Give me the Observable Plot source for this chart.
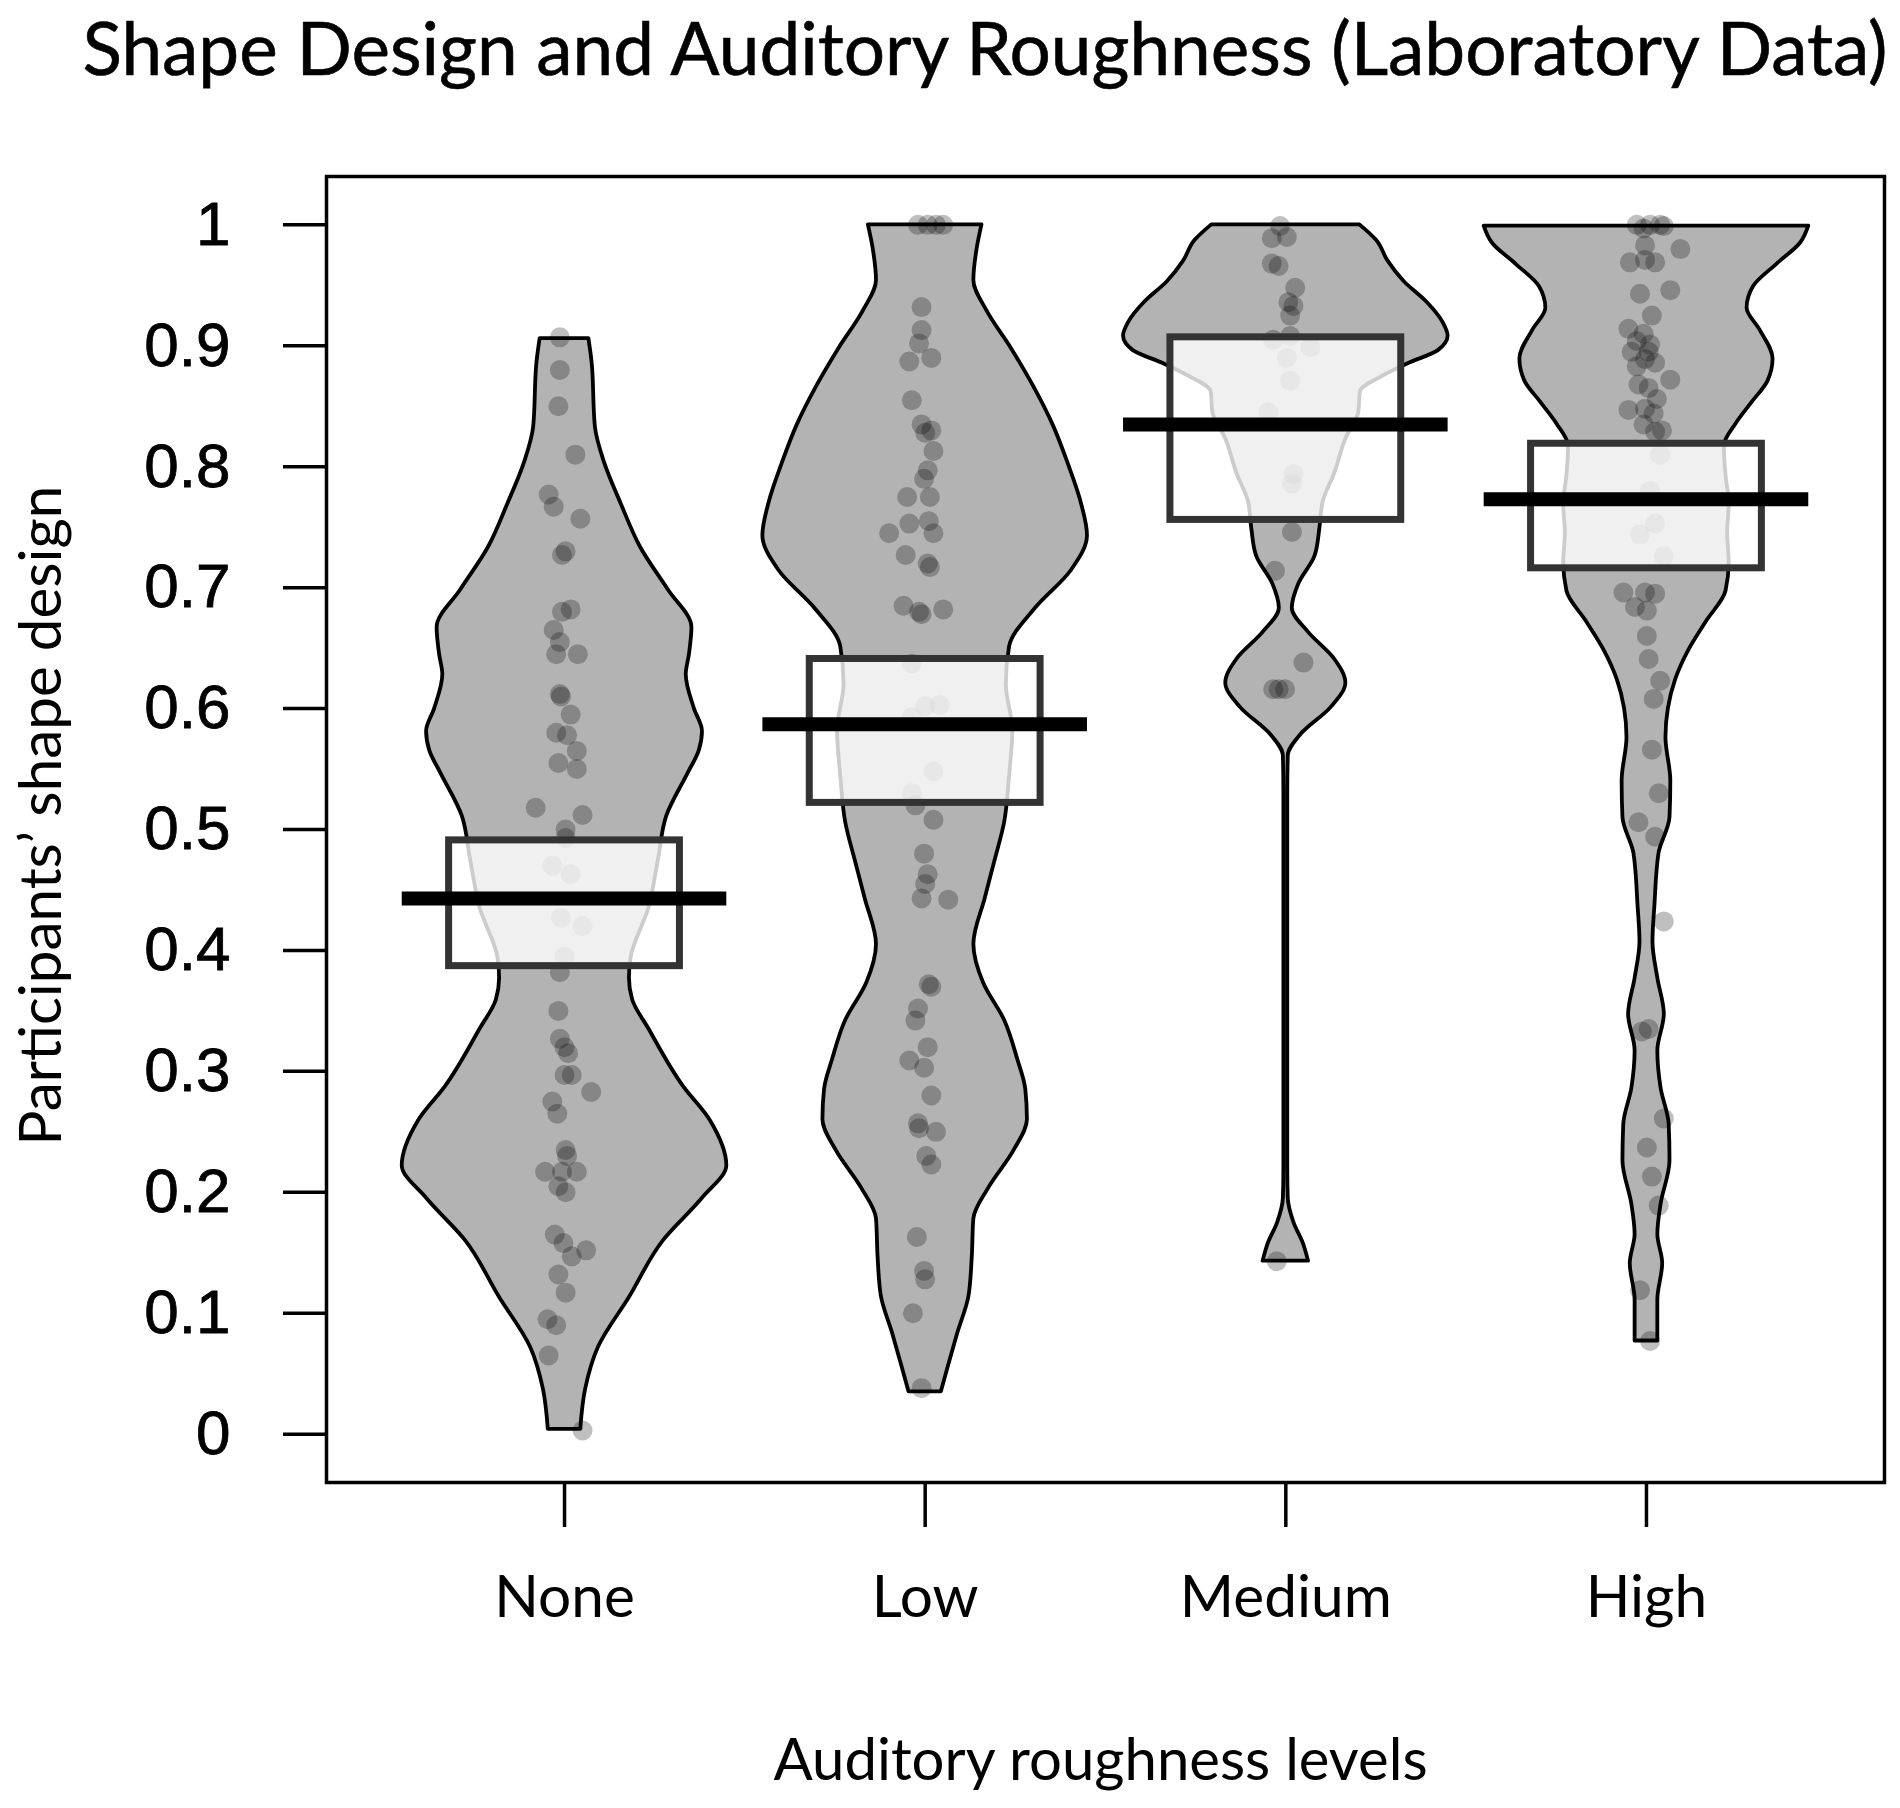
<!DOCTYPE html>
<html>
<head>
<meta charset="utf-8">
<script src="https://cdn.jsdelivr.net/npm/d3@7"></script>
<script src="https://cdn.jsdelivr.net/npm/@observablehq/plot@0.6"></script>
<style>
  body { margin: 0; background: #fff; }
  #wrap { width: 1900px; }
  svg { display: block; }
</style>
</head>
<body>
<div id="wrap"></div>
<script>
// ---------------- data ----------------
const titleText = "Shape Design and Auditory Roughness (Laboratory Data)";
const xLabel = "Auditory roughness levels";
const yLabel = "Participants\u2019 shape design";
const categories = ["None", "Low", "Medium", "High"];
const xTicks = [1, 2, 3, 4];
const yTicks = [0, 0.1, 0.2, 0.3, 0.4, 0.5, 0.6, 0.7, 0.8, 0.9, 1];
const yTickLabels = ["0", "0.1", "0.2", "0.3", "0.4", "0.5", "0.6", "0.7", "0.8", "0.9", "1"];

// averages (thick line) and inference band (box)
const means  = [0.443, 0.587, 0.835, 0.773];
const infLow = [0.387, 0.522, 0.756, 0.716];
const infHigh = [0.491, 0.641, 0.907, 0.819];

// bean outlines: [value, relative half-width]
const beanNone = [[0.004,0.10],[0.037,0.13],[0.072,0.21],[0.113,0.40],[0.160,0.61],[0.195,0.85],[0.222,1.0],[0.259,0.90],[0.288,0.73],[0.335,0.52],[0.359,0.42],[0.377,0.40],[0.394,0.41],[0.435,0.52],[0.476,0.58],[0.511,0.63],[0.546,0.76],[0.565,0.83],[0.581,0.85],[0.600,0.80],[0.628,0.75],[0.645,0.77],[0.667,0.785],[0.698,0.64],[0.733,0.47],[0.769,0.35],[0.804,0.245],[0.833,0.19],[0.886,0.17],[0.906,0.15]];
const beanLow = [[0.035,0.10],[0.057,0.145],[0.083,0.20],[0.114,0.27],[0.146,0.29],[0.178,0.30],[0.203,0.39],[0.235,0.55],[0.260,0.63],[0.285,0.62],[0.310,0.57],[0.342,0.49],[0.373,0.36],[0.405,0.30],[0.443,0.37],[0.474,0.43],[0.506,0.49],[0.544,0.52],[0.582,0.54],[0.620,0.50],[0.651,0.52],[0.683,0.68],[0.714,0.90],[0.743,1.0],[0.771,0.96],[0.803,0.88],[0.834,0.79],[0.866,0.67],[0.898,0.53],[0.929,0.38],[0.954,0.30],[0.980,0.32],[1.0,0.35]];
const beanMedium = [[0.143,0.14],[0.157,0.11],[0.175,0.05],[0.195,0.015],[0.22,0.012],[0.53,0.012],[0.561,0.015],[0.578,0.09],[0.601,0.28],[0.621,0.37],[0.641,0.30],[0.663,0.14],[0.683,0.04],[0.703,0.08],[0.726,0.18],[0.749,0.21],[0.771,0.23],[0.794,0.30],[0.823,0.37],[0.845,0.45],[0.862,0.46],[0.875,0.60],[0.885,0.75],[0.896,0.94],[0.908,1.0],[0.919,0.97],[0.936,0.87],[0.953,0.73],[0.970,0.63],[0.987,0.56],[1.0,0.456]];
const beanHigh = [[0.077,0.07],[0.111,0.07],[0.141,0.10],[0.165,0.07],[0.190,0.09],[0.226,0.145],[0.256,0.14],[0.286,0.09],[0.317,0.07],[0.347,0.11],[0.377,0.07],[0.407,0.04],[0.437,0.052],[0.480,0.077],[0.510,0.145],[0.540,0.15],[0.576,0.12],[0.600,0.135],[0.624,0.18],[0.648,0.26],[0.672,0.37],[0.697,0.49],[0.721,0.51],[0.745,0.50],[0.769,0.51],[0.793,0.49],[0.817,0.48],[0.835,0.55],[0.853,0.65],[0.871,0.75],[0.889,0.78],[0.913,0.70],[0.931,0.62],[0.949,0.66],[0.967,0.80],[0.985,0.95],[0.999,1.0]];

// raw observations: values and horizontal jitter
const noneY = [0.907,0.88,0.85,0.81,0.777,0.767,0.757,0.73,0.727,0.68,0.682,0.665,0.655,0.645,0.645,0.612,0.61,0.595,0.58,0.578,0.565,0.555,0.55,0.518,0.512,0.5,0.493,0.47,0.463,0.427,0.42,0.395,0.382,0.35,0.327,0.32,0.315,0.297,0.297,0.283,0.275,0.265,0.235,0.23,0.217,0.217,0.217,0.205,0.2,0.165,0.158,0.152,0.147,0.132,0.117,0.095,0.09,0.065,0.003];
const noneJ = [-0.013,-0.013,-0.017,0.03,-0.044,-0.03,0.044,0.003,-0.007,-0.007,0.017,-0.03,-0.013,-0.023,0.037,-0.013,-0.01,0.017,-0.023,0.007,0.034,-0.017,0.034,-0.08,0.05,0.003,0.003,-0.034,0.017,-0.01,0.05,0,-0.013,-0.017,-0.013,0,0.01,0,0.02,0.074,-0.034,-0.02,0.003,0.007,-0.054,-0.007,0.034,-0.017,0.003,-0.027,-0.003,0.06,0.02,-0.017,0.003,-0.047,-0.023,-0.044,0.05];
const lowY = [1.0,1.0,1.0,1.0,0.932,0.913,0.902,0.89,0.887,0.855,0.835,0.828,0.83,0.813,0.797,0.79,0.775,0.775,0.753,0.755,0.745,0.745,0.727,0.72,0.717,0.685,0.68,0.678,0.682,0.637,0.602,0.603,0.593,0.548,0.53,0.52,0.508,0.48,0.463,0.455,0.442,0.443,0.372,0.37,0.352,0.342,0.32,0.309,0.303,0.28,0.257,0.253,0.25,0.23,0.223,0.163,0.135,0.128,0.1,0.038];
const lowJ = [-0.02,0.007,0.03,0.05,-0.01,-0.01,-0.017,0.017,-0.044,-0.037,-0.01,0,0.017,0.023,0.007,-0.003,-0.05,0.013,-0.044,0.01,0.023,-0.1,-0.054,0.007,0.013,-0.06,-0.017,-0.01,0.05,-0.037,0,0.04,-0.037,0.023,-0.037,-0.027,0.023,-0.003,0.007,0,0.064,-0.01,0.01,0.017,-0.02,-0.027,0.007,-0.044,-0.003,0.017,-0.02,-0.017,0.03,0.003,0.017,-0.023,-0.003,0,-0.034,-0.01];
const mediumY = [0.999,0.989,0.99,0.968,0.966,0.948,0.936,0.933,0.925,0.905,0.908,0.899,0.89,0.871,0.845,0.794,0.786,0.746,0.714,0.638,0.616,0.616,0.616,0.143];
const mediumJ = [-0.016,-0.039,0.003,-0.039,-0.02,0.026,0.007,0.021,0.012,-0.035,0.012,0.068,0.003,0.012,-0.049,0.021,0.017,0.017,-0.03,0.049,-0.035,-0.02,-0.002,-0.025];
const highY = [1.0,1.0,1.0,0.999,0.997,0.98,0.983,0.969,0.969,0.971,0.943,0.946,0.925,0.914,0.91,0.904,0.901,0.895,0.895,0.889,0.886,0.883,0.872,0.868,0.865,0.856,0.847,0.848,0.844,0.835,0.83,0.829,0.81,0.78,0.753,0.744,0.726,0.696,0.696,0.695,0.684,0.681,0.66,0.641,0.623,0.608,0.566,0.53,0.506,0.494,0.424,0.333,0.335,0.261,0.237,0.213,0.189,0.119,0.077];
const highJ = [-0.027,0.01,0.038,0.048,-0.008,0.094,-0.004,-0.046,0.024,-0.004,-0.018,0.066,0.015,-0.05,-0.008,-0.027,0.01,-0.041,0.006,-0.004,0.024,-0.027,0.066,-0.022,0.006,0.029,-0.05,-0.004,0.02,-0.008,0.043,0.024,0.038,0.01,0.024,-0.018,0.048,-0.064,-0.004,0.024,-0.032,0.001,0.001,0.006,0.038,0.02,0.015,0.034,-0.022,0.024,0.048,-0.013,0.006,0.048,0.001,0.015,0.034,-0.018,0.01];

// ---------------- tables ----------------
const beans = [beanNone, beanLow, beanMedium, beanHigh];
const pointsY = [noneY, lowY, mediumY, highY];
const pointsJ = [noneJ, lowJ, mediumJ, highJ];
const beanRows = beans.flatMap((b, i) => b.map(([y, w]) => ({g: i + 1, y, w})));
const pointRows = pointsY.flatMap((ys, i) => ys.map((y, k) => ({g: i + 1, y, j: pointsJ[i][k]})));
const summary = categories.map((c, i) => ({g: i + 1, mean: means[i], lo: infLow[i], hi: infHigh[i]}));

const BEAN_W = 0.45, BOX_W = 0.32, LINE_W = 0.45;
const calibri = "Lato, 'Open Sans', sans-serif";

// ---------------- title ----------------
const wrap = document.getElementById("wrap");
const tsvg = d3.create("svg").attr("width", 1900).attr("height", 110);
tsvg.append("rect").attr("width", 1900).attr("height", 110).attr("fill", "white");
const tt = tsvg.append("text").attr("x", 985).attr("y", 75).attr("text-anchor", "middle")
  .attr("font-family", calibri).attr("font-size", 76).attr("fill", "black")
  .attr("stroke", "black").attr("stroke-width", 0.6).text(titleText);
wrap.appendChild(tsvg.node());

// ---------------- plot ----------------
const plot = Plot.plot({
  width: 1900,
  height: 1698,
  marginLeft: 326,
  marginRight: 16,
  marginTop: 66,
  marginBottom: 326,
  style: {background: "white", overflow: "visible"},
  x: {domain: [0.34, 4.66], axis: null},
  y: {domain: [-0.04, 1.04], axis: null},
  marks: [
    Plot.areaX(beanRows, {
      y: "y",
      x1: d => d.g - BEAN_W * d.w,
      x2: d => d.g + BEAN_W * d.w,
      z: "g",
      fill: "#b3b3b3",
      stroke: "black",
      strokeWidth: 3.8,
      curve: "monotone-y"
    }),
    Plot.dot(pointRows, {x: d => d.g + d.j, y: "y", r: 10, fill: "black", fillOpacity: 0.25, stroke: "none"}),
    Plot.rect(summary, {
      x1: d => d.g - BOX_W, x2: d => d.g + BOX_W, y1: "lo", y2: "hi",
      fill: "white", fillOpacity: 0.8, stroke: "#333333", strokeWidth: 7
    }),
    Plot.ruleY(summary, {y: "mean", x1: d => d.g - LINE_W, x2: d => d.g + LINE_W, stroke: "black", strokeWidth: 14}),
    Plot.frame({stroke: "black", strokeWidth: 3.5}),
    Plot.axisY(yTicks, {
      anchor: "left", tickSize: 43, tickPadding: 53,
      tickFormat: d => yTickLabels[yTicks.indexOf(d)],
      fontSize: 62, fontFamily: "'Liberation Sans', Arial, sans-serif",
      fill: "black", stroke: "black", strokeWidth: 3.5, label: null
    }),
    Plot.axisX(xTicks, {
      anchor: "bottom", tickSize: 45, tickPadding: 48,
      tickFormat: d => categories[d - 1],
      fontSize: 60, fontFamily: calibri,
      fill: "black", stroke: "black", strokeWidth: 3.5, label: null
    }),
    Plot.text([yLabel], {frameAnchor: "left", dx: -266, dy: -14, rotate: -90, textAnchor: "middle", lineAnchor: "bottom", fontSize: 54, fontFamily: calibri, fill: "black"}),
    Plot.text([xLabel], {frameAnchor: "bottom", dx: -5, dy: 297, textAnchor: "middle", lineAnchor: "bottom", fontSize: 58, fontFamily: calibri, fill: "black"})
  ]
});
wrap.appendChild(plot);

// slightly heavier tick-label glyphs, as in the reference
plot.querySelectorAll("g[aria-label='y-axis tick label'] text, g[aria-label='y-axis tick label']").forEach(n => {
  n.setAttribute("stroke", "black"); n.setAttribute("stroke-width", "0.8");
});

// ---------------- fit text widths to the reference ----------------
function fit(sel, target) {
  const node = sel && sel.node ? sel.node() : sel;
  if (!node) return;
  const w = node.getComputedTextLength();
  const fs = parseFloat(getComputedStyle(node).fontSize);
  if (w > 0) node.style.fontSize = (fs * target / w).toFixed(2) + "px";
}
function fitAll() {
  fit(tt, 1805);
  const texts = Array.from(plot.querySelectorAll("text"));
  const find = s => texts.find(t => t.textContent === s);
  fit(find(xLabel), 654);
  fit(find(yLabel), 660);
  const med = find("Medium");
  if (med) {
    const w = med.getComputedTextLength();
    const fs = parseFloat(getComputedStyle(med).fontSize);
    const nfs = fs * 212 / w;
    categories.forEach(c => { const t = find(c); if (t) t.style.fontSize = nfs + "px"; });
  }
}
if (document.fonts && document.fonts.ready) document.fonts.ready.then(fitAll);
fitAll();
</script>
</body>
</html>
